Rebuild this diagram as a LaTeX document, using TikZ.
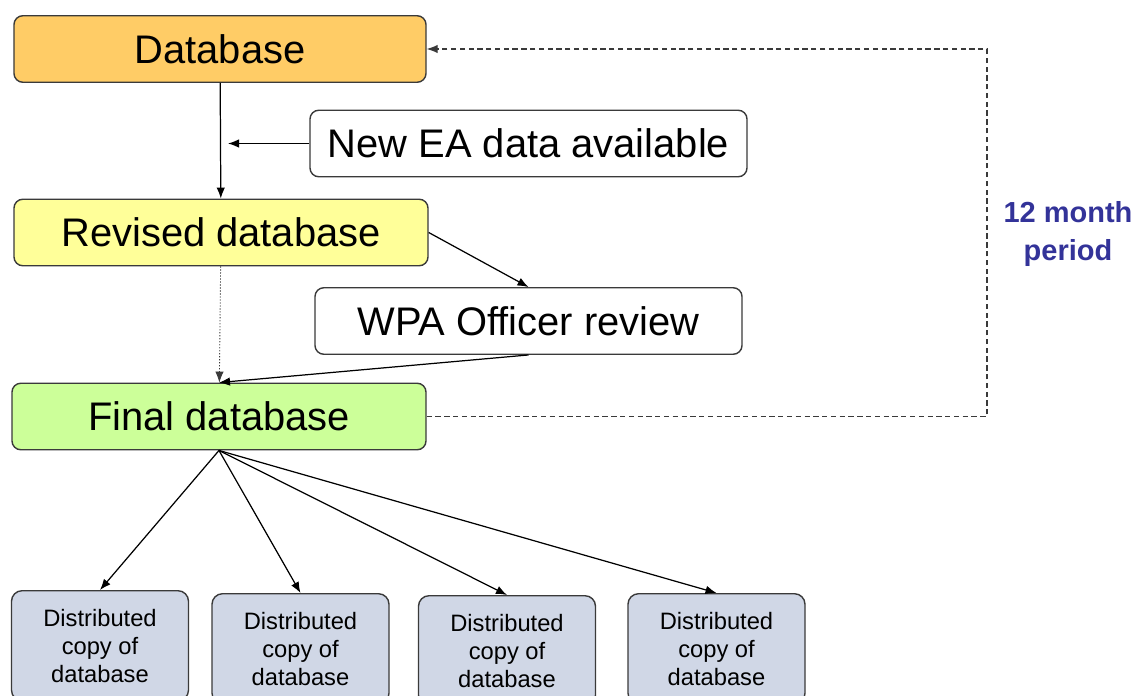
\documentclass[tikz,border=0pt]{standalone}
\usepackage{fontspec}
\setmainfont{Liberation Sans}
\usetikzlibrary{positioning,arrows.meta}
\definecolor{dbgold}{HTML}{FFCC66}
\definecolor{dbyellow}{HTML}{FFFF99}
\definecolor{dbgreen}{HTML}{CCFF99}
\definecolor{dbcopy}{HTML}{D0D7E6}
\definecolor{dbline}{HTML}{3A3A3A}
\definecolor{dbnavy}{HTML}{333399}

\begin{document}
\begin{tikzpicture}[
  box/.style={rounded corners=5pt,draw=dbline,line width=0.8pt,
              minimum height=1.33cm,inner sep=0pt,
              font=\fontsize{22.7}{27}\selectfont},
  copybox/.style={rounded corners=6pt,draw=dbline,fill=dbcopy,line width=0.8pt,
              minimum width=3.54cm,minimum height=2.2cm,anchor=north,
              align=center,inner sep=0pt,font=\fontsize{13.5}{16}\selectfont},
  ar/.style={-{Latex[length=2.2mm,width=1.7mm]},line width=0.7pt,black},
  yearly/.style={-{Latex[length=2.2mm,width=1.7mm]},line width=0.6pt,
              dbline,dash pattern=on 3pt off 2pt},
  note/.style={font=\bfseries\fontsize{16.5}{21.5}\selectfont,text=dbnavy,align=center}]

\useasboundingbox (0,0) rectangle (22.72,13.9);

% ---- main chain ----
\node[box,fill=dbgold,minimum width=8.24cm]   (db)  at (4.40,12.92) {Database};
\node[box,fill=white,minimum width=8.74cm]    (ea)  at (10.57,11.03) {New EA data available};
\node[box,fill=dbyellow,minimum width=8.28cm] (rev) at (4.42,9.25) {Revised database};
\node[box,fill=white,minimum width=8.54cm]    (wpa) at (10.57,7.48) {WPA Officer review};
\node[box,fill=dbgreen,minimum width=8.28cm]  (fin) at (4.38,5.57) {Final database};

\coordinate (eatip) at (4.56,11.03);
\draw[ar] (db) -- (rev);
\draw[ar] (ea) -- (eatip);
\draw[ar] (rev.east) -- (wpa.north);
\draw[ar,densely dotted,line width=0.5pt,dbline] (rev) -- (fin);
\draw[ar] (wpa.south) -- (fin.north);

% ---- distributed copies ----
\node[copybox] (c1) at (2.00,2.10)  {Distributed\\copy of\\database};
\node[copybox] (c2) at (6.01,2.04)  {Distributed\\copy of\\database};
\node[copybox] (c3) at (10.14,2.00) {Distributed\\copy of\\database};
\node[copybox] (c4) at (14.33,2.04) {Distributed\\copy of\\database};
\foreach \c in {c1,c2,c3,c4}
  \draw[ar] (fin.south) -- (\c.north);

% ---- 12 month cycle ----
\coordinate (lo) at (19.74,5.57);
\coordinate (hi) at (19.74,12.92);
\draw[yearly] (fin.east) -- (lo) -- (hi) -- (db.east);
\node[note] (per) at (21.36,9.22) {12 month\\period};
\end{tikzpicture}
\end{document}
